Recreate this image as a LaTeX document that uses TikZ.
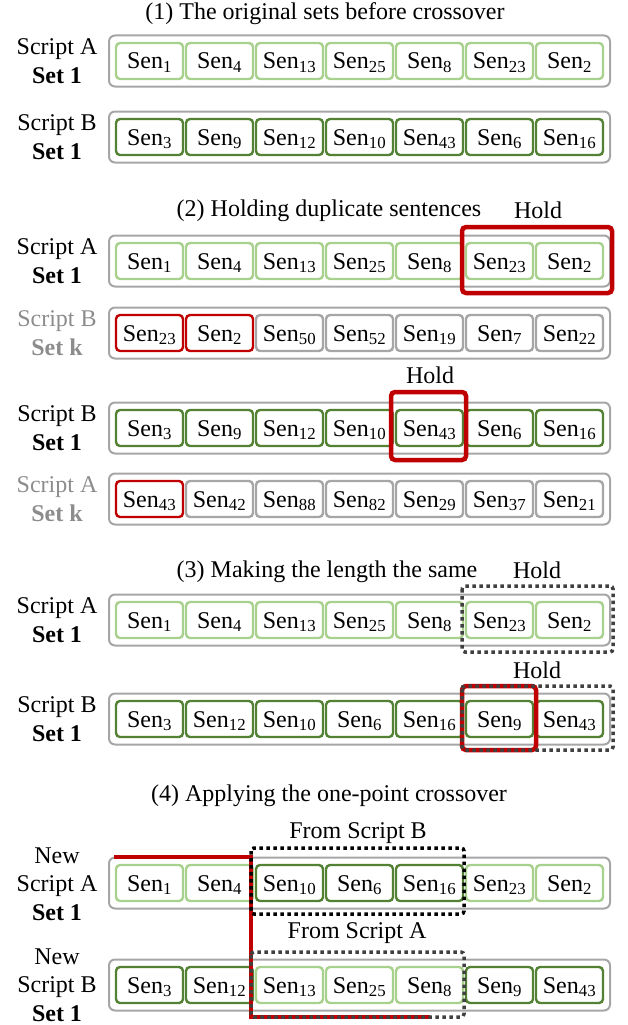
\documentclass[tikz,border=0pt]{standalone}
\usepackage{fontspec}
\setmainfont{Liberation Serif}
\usepackage{xcolor}
\definecolor{lightgr}{RGB}{169,209,142}
\definecolor{darkgr}{RGB}{84,130,53}
\definecolor{boxgray}{RGB}{166,166,166}
\definecolor{txtgray}{RGB}{140,140,140}
\definecolor{myred}{RGB}{192,0,0}
\definecolor{dotgray}{RGB}{64,64,64}
\usepackage{tikz}

% one set: outer box and seven sentences
\newcommand{\senrow}[3]{%
  \node[setbox] (#1) at (359.5,#2) {};
  \foreach \col/\n [count=\i] in {#3}
    \node[sen, draw=\col] (#1-\i) at ({79.5+70*\i},#2) {Sen\textsubscript{\n}};
}

\begin{document}
\begin{tikzpicture}[x=1pt,y=-1pt,
    every node/.style={font=\fontsize{24}{28.5}\selectfont},
    sen/.style={draw, rounded corners=4pt, line width=2.4pt, minimum width=67pt, minimum height=36pt, inner sep=0pt, text height=16pt, text depth=0pt},
    setbox/.style={draw=boxgray, rounded corners=6pt, line width=2pt, minimum width=501pt, minimum height=51pt, inner sep=0pt},
    lab/.style={align=center},
    holdbox/.style={draw=myred, line width=4.5pt, rounded corners=4pt},
    dotbox/.style={line width=3.5pt, dash pattern=on 3.5pt off 3.5pt, rounded corners=3pt}]
    \useasboundingbox (0,0) rectangle (627,1025);
    % (1) original sets
    \node (t1) at (325,14) {(1) The original sets before crossover};
    \node[lab] (labA1) at (57,61) {Script A\\\textbf{Set 1}};
    \senrow{r1}{61}{lightgr/1,lightgr/4,lightgr/13,lightgr/25,lightgr/8,lightgr/23,lightgr/2}
    \node[lab] (labB1) at (57,137) {Script B\\\textbf{Set 1}};
    \senrow{r2}{137}{darkgr/3,darkgr/9,darkgr/12,darkgr/10,darkgr/43,darkgr/6,darkgr/16}
    % (2) holding duplicates
    \node (t2) at (329,211) {(2) Holding duplicate sentences};
    \node[lab] (labA2) at (57,261) {Script A\\\textbf{Set 1}};
    \senrow{r3}{261}{lightgr/1,lightgr/4,lightgr/13,lightgr/25,lightgr/8,lightgr/23,lightgr/2}
    \node[lab, text=txtgray] (labBk) at (57,333) {Script B\\\textbf{Set k}};
    \senrow{r4}{333}{myred/23,myred/2,boxgray/50,boxgray/52,boxgray/19,boxgray/7,boxgray/22}
    \node[lab] (labB2) at (57,428) {Script B\\\textbf{Set 1}};
    \senrow{r5}{428}{darkgr/3,darkgr/9,darkgr/12,darkgr/10,darkgr/43,darkgr/6,darkgr/16}
    \node[lab, text=txtgray] (labAk) at (57,499) {Script A\\\textbf{Set k}};
    \senrow{r6}{499}{myred/43,boxgray/42,boxgray/88,boxgray/82,boxgray/29,boxgray/37,boxgray/21}
    \draw[holdbox] (462,227) rectangle (612,293);
    \node (hold1) at (538,210) {Hold};
    \draw[holdbox] (391,392) rectangle (466,460);
    \node (hold2) at (430,375) {Hold};
    % (3) same length
    \node (t3) at (327,572) {(3) Making the length the same};
    \node[lab] (labA3) at (57,620) {Script A\\\textbf{Set 1}};
    \senrow{r7}{620}{lightgr/1,lightgr/4,lightgr/13,lightgr/25,lightgr/8,lightgr/23,lightgr/2}
    \node[lab] (labB3) at (57,719) {Script B\\\textbf{Set 1}};
    \senrow{r8}{719}{darkgr/3,darkgr/12,darkgr/10,darkgr/6,darkgr/16,darkgr/9,darkgr/43}
    \draw[dotbox, draw=dotgray] (462,586) rectangle (613,652);
    \node (hold3) at (537,570) {Hold};
    \draw[holdbox] (462,686) rectangle (536,750);
    \draw[dotbox, draw=dotgray] (462,686) rectangle (613,750);
    \node (hold4) at (537,670) {Hold};
    % (4) one-point crossover
    \node (t4) at (329,796) {(4) Applying the one-point crossover};
    \node[lab] (labA4) at (57,884) {New\\Script A\\\textbf{Set 1}};
    \senrow{r9}{883}{lightgr/1,lightgr/4,darkgr/10,darkgr/6,darkgr/16,lightgr/23,lightgr/2}
    \node[lab] (labB4) at (57,985) {New\\Script B\\\textbf{Set 1}};
    \senrow{r10}{985}{darkgr/3,darkgr/12,lightgr/13,lightgr/25,lightgr/8,darkgr/9,darkgr/43}
    % cut line
    \coordinate (cutL) at (114,857);
    \coordinate (cutR) at (430,1017);
    \draw[myred, line width=4pt] (cutL) -- (251,857) -- (251,1017) -- (cutR);
    \draw[dotbox, draw=black] (251,848) rectangle (464,914);
    \node (fromB) at (358,833) {From Script B};
    \draw[dotbox, draw=dotgray] (251,952) rectangle (464,1017);
    \node (fromA) at (357,933) {From Script A};
\end{tikzpicture}
\end{document}
